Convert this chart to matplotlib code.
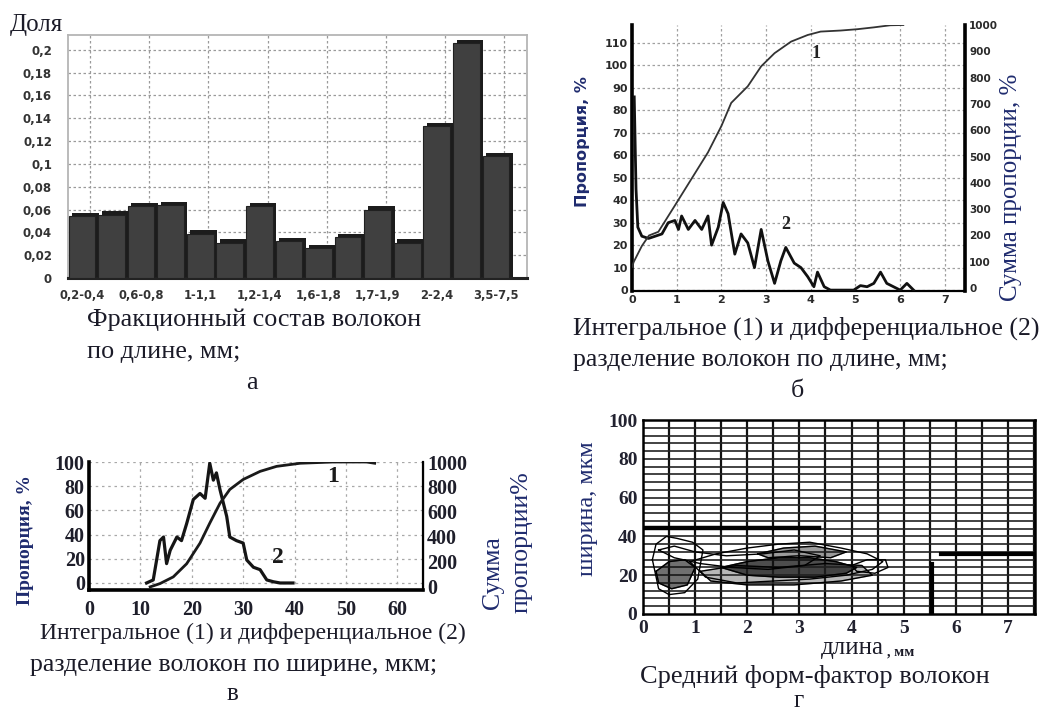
import numpy as np
import matplotlib
matplotlib.use('Agg')
import matplotlib.pyplot as plt

# ---- data -----------------------------------------------------------------
# (a) fraction of fibres by length class
frac_share = [0.054, 0.0555, 0.063, 0.064, 0.039, 0.031, 0.063, 0.032,
              0.026, 0.036, 0.060, 0.031, 0.133, 0.206, 0.107]
frac_labels = ['0,2-0,4', '0,6-0,8', '1-1,1', '1,2-1,4', '1,6-1,8',
               '1,7-1,9', '2-2,4', '3,5-7,5']
frac_ticks = ['0', '0,02', '0,04', '0,06', '0,08', '0,1', '0,12', '0,14',
              '0,16', '0,18', '0,2']

# (б) length distribution: integral (1) and differential (2)
int_len_x = [0.0, 0.04, 0.22, 0.38, 0.59, 0.96, 1.33, 1.70, 2.0, 2.22, 2.59,
             2.89, 3.19, 3.56, 3.93, 4.22, 4.67, 5.04, 5.41, 5.78, 6.07]
int_len_y = [80, 100, 160, 200, 214, 314, 415, 516, 616, 704, 767,
             843, 893, 937, 962, 975, 979, 984, 991, 999, 1000]
diff_len_x = [0.05, 0.09, 0.13, 0.22, 0.37, 0.52, 0.67, 0.81, 0.96, 1.04,
              1.11, 1.26, 1.41, 1.56, 1.70, 1.78, 1.93, 2.04, 2.15, 2.30,
              2.44, 2.59, 2.74, 2.89, 3.04, 3.19, 3.33, 3.44, 3.63, 3.78,
              3.93, 4.07, 4.15, 4.30, 4.44, 4.96, 5.11, 5.26, 5.41, 5.56,
              5.70, 5.85, 6.00, 6.15, 6.30]
diff_len_y = [86, 45, 28, 24, 23, 24, 25, 30, 31, 27,
              33, 27, 31, 27, 33, 20, 28, 39, 34, 16,
              25, 21, 10, 27, 13, 3, 13, 19, 12, 10,
              6, 1.5, 8, 1.5, 0, 0, 2, 1.5, 3, 8,
              3, 1.5, 0, 3, 0]

# (в) width distribution: integral (1) and differential (2)
int_wid_x = [11.9, 13.8, 16.4, 19.0, 21.6, 23.5, 25.5, 27.4, 30.0, 33.3,
             36.5, 41.1, 47.5, 54.0, 55.6]
int_wid_y = [0, 26, 80, 185, 350, 510, 670, 780, 860, 925,
             965, 990, 1000, 1000, 990]
diff_wid_x = [11.2, 12.5, 13.8, 14.5, 15.1, 15.8, 17.1, 18.0, 19.0, 20.3,
              21.6, 22.6, 23.5, 24.2, 24.8, 25.5, 26.8, 27.4, 28.7, 30.0,
              30.7, 32.0, 33.3, 34.6, 35.9, 37.2, 39.7]
diff_wid_y = [0, 2.5, 35, 38, 16, 27, 38, 35, 49, 69,
              74, 70, 99, 85, 91, 77, 55, 38, 35, 33,
              19, 13, 11, 2.5, 1, 0, 0]

# (г) shape factor cloud, traced outlines (length mm, width um)
loop_a_x = [0.18, 0.25, 0.45, 0.65, 0.95, 1.15, 1.05, 0.8, 0.5, 0.3, 0.18]
loop_a_y = [28, 36, 40, 39, 37, 33, 18, 11, 10, 13, 28]
loop_b_x = [0.9, 1.4, 2.0, 2.6, 3.2, 3.8, 4.3, 4.6, 4.4, 3.9, 3.2, 2.5, 1.8, 1.2, 0.9]
loop_b_y = [27, 31, 34, 36, 37, 34, 31, 27, 23, 20, 18, 17, 16, 19, 27]
loop_c_x = [1.5, 2.0, 2.6, 3.2, 3.7, 4.1, 3.9, 3.3, 2.6, 2.0, 1.5]
loop_c_y = [24, 27, 29, 29, 27, 24, 21, 19, 19, 20, 24]
loop_d_x = [2.2, 2.7, 3.3, 3.9, 3.6, 3.0, 2.4, 2.2]
loop_d_y = [31, 34, 35, 32, 29, 30, 29, 31]
loop_e_x = [0.25, 0.5, 0.8, 1.0, 0.85, 0.55, 0.3, 0.25]
loop_e_y = [22, 27, 28, 24, 15, 13, 16, 22]
loop_f_x = [4.0, 4.3, 4.65, 4.7, 4.45, 4.1, 4.0]
loop_f_y = [25, 28, 28, 24, 21, 22, 25]
loop_g_x = [0.3, 0.6, 1.0, 1.6, 2.3, 2.9, 3.4, 3.1, 2.4, 1.7, 1.1, 0.6, 0.3]
loop_g_y = [33, 35, 32, 30, 31, 33, 30, 25, 23, 24, 26, 29, 33]
loop_h_x = [1.1, 1.8, 2.6, 3.5, 4.2, 4.4, 3.8, 2.9, 2.0, 1.3, 1.1]
loop_h_y = [22, 25, 24, 26, 25, 20, 17, 15, 15, 17, 22]

# ---- layout helpers -------------------------------------------------------
W, H = 1043, 711
fig = plt.figure(figsize=(W / 100, H / 100), dpi=100)
SERIF = 'Liberation Serif'
NARROW = ['Liberation Sans Narrow', 'DejaVu Sans']
INK = '#1b1b28'
NAVY = '#1f2b6e'


def box(l, t, r, b):
    return [l / W, 1 - b / H, (r - l) / W, (b - t) / H]


def ftext(x, y, s, **kw):
    kw.setdefault('ha', 'center')
    kw.setdefault('va', 'center')
    fig.text(x / W, 1 - y / H, s, **kw)


# ---- (a) bars ---------------------------------------------------------------
ax_a = fig.add_axes(box(68, 35, 527, 278))
idx = np.arange(len(frac_share))
ax_a.bar(idx + 0.12, np.array(frac_share) + 0.003, width=0.9,
         color='#1c1c1c', zorder=2)
ax_a.bar(idx, frac_share, width=0.9, color='#404040', edgecolor='#202020',
         linewidth=0.8, zorder=3)
ax_a.set_xlim(-0.47, 15.05)
ax_a.set_ylim(0, 0.213)
ax_a.set_yticks(np.arange(11) * 0.02)
ax_a.set_yticklabels(frac_ticks, fontsize=8.5, fontweight='bold', color='#333333')
ax_a.set_xticks(idx[::2])
ax_a.set_xticklabels(frac_labels, fontsize=8.3, fontweight='bold', color='#333333')
ax_a.tick_params(axis='y', length=0, pad=11.5)
ax_a.tick_params(axis='x', length=0, pad=8)
ax_a.yaxis.grid(True, ls=(0, (2, 2)), color='#9a9a9a', lw=0.9, zorder=0)
for gx in np.arange(0.28, 15, 2):
    ax_a.axvline(gx, ls=(0, (2, 2)), color='#9a9a9a', lw=0.9, zorder=0)
for s in ['top', 'right', 'left']:
    ax_a.spines[s].set_color('#b5b5b5')
    ax_a.spines[s].set_linewidth(1.3)
ax_a.spines['bottom'].set_color('#222222')
ax_a.spines['bottom'].set_linewidth(2.2)
ftext(10, 25, 'Доля', fontsize=18, family=SERIF, color=INK, ha='left')

ftext(87, 320, 'Фракционный состав волокон', fontsize=18.8, family=SERIF, color=INK, ha='left')
ftext(87, 352, 'по длине, мм;', fontsize=18.8, family=SERIF, color=INK, ha='left')
ftext(252, 383, 'а', fontsize=18.8, family=SERIF, color=INK)

# ---- (б) length distribution ---------------------------------------------
ax_b = fig.add_axes(box(632, 25, 965, 291))
ax_b.plot(diff_len_x, diff_len_y, color='#111111', lw=2.0, zorder=3)
ax_b.set_xlim(0, 7.45)
ax_b.set_ylim(-0.4, 118)
ax_b.set_xticks(range(8))
ax_b.set_yticks(range(0, 111, 10))
ax_b.tick_params(length=0, pad=3, labelsize=8, labelcolor='#2a2a2a')
for lab in ax_b.get_xticklabels() + ax_b.get_yticklabels():
    lab.set_fontweight('bold')
ax_b.grid(True, ls=(0, (2, 2)), color='#a0a0a0', lw=0.9)
ax_b.spines['top'].set_visible(False)
ax_b.spines['left'].set_linewidth(2.6)
ax_b.spines['bottom'].set_linewidth(1.6)
ax_b.text(3.45, 29, '2', fontsize=13, fontweight='bold', family=SERIF,
          color='#222222', ha='center', va='center')

ax_b2 = ax_b.twinx()
ax_b2.plot(int_len_x, int_len_y, color='#333333', lw=1.3)
ax_b2.set_ylim(-11, 1000)
ax_b2.set_yticks(range(0, 1001, 100))
ax_b2.tick_params(length=0, pad=3, labelsize=7.5, labelcolor='#2a2a2a')
for lab in ax_b2.get_yticklabels():
    lab.set_fontweight('bold')
ax_b2.spines['top'].set_visible(False)
ax_b2.spines['left'].set_visible(False)
ax_b2.spines['bottom'].set_visible(False)
ax_b2.spines['right'].set_linewidth(2.6)
ax_b2.text(4.12, 893, '1', fontsize=13, fontweight='bold', family=SERIF,
           color='#222222', ha='center', va='center')
ftext(582, 142, 'Пропорция, %', fontsize=11.5, fontweight='bold', family=NARROW,
      color=NAVY, rotation=90)
ftext(1011, 187, 'Сумма пропорции, %', fontsize=18, family=SERIF, color=NAVY, rotation=90)

ftext(573, 328, 'Интегральное (1) и дифференциальное (2)', fontsize=18.6, family=SERIF,
      color=INK, ha='left')
ftext(573, 360, 'разделение волокон по длине, мм;', fontsize=18.6, family=SERIF,
      color=INK, ha='left')
ftext(797, 391, 'б', fontsize=18.6, family=SERIF, color=INK)

# ---- (в) width distribution ------------------------------------------------
ax_c = fig.add_axes(box(89, 462, 423, 590))
ax_c.plot(diff_wid_x, diff_wid_y, color='#151515', lw=2.3, zorder=3)
ax_c.set_xlim(0, 65)
ax_c.set_ylim(-5.8, 100)
ax_c.set_xticks(range(0, 61, 10))
ax_c.set_yticks(range(0, 101, 20))
ax_c.tick_params(length=0, pad=3, labelsize=14.5, labelcolor='#1e1e2a')
ax_c.tick_params(axis='x', pad=7)
for lab in ax_c.get_xticklabels() + ax_c.get_yticklabels():
    lab.set_fontweight('bold')
    lab.set_family(SERIF)
ax_c.grid(True, ls=(0, (2, 3)), color='#a8a8a8', lw=0.9)
ax_c.spines['top'].set_visible(False)
ax_c.spines['left'].set_linewidth(2.6)
ax_c.spines['bottom'].set_linewidth(2.6)
ax_c.text(36.8, 21, '2', fontsize=17, fontweight='bold', family=SERIF,
          color='#1a1a1a', ha='center', va='center')

ax_c2 = ax_c.twinx()
ax_c2.plot(int_wid_x, int_wid_y, color='#1a1a1a', lw=2.0)
ax_c2.set_ylim(-25, 1000)
ax_c2.set_yticks(range(0, 1001, 200))
ax_c2.tick_params(length=0, pad=3, labelsize=14.5, labelcolor='#1e1e2a')
for lab in ax_c2.get_yticklabels():
    lab.set_fontweight('bold')
    lab.set_family(SERIF)
for s in ['top', 'left', 'bottom']:
    ax_c2.spines[s].set_visible(False)
ax_c2.spines['right'].set_linewidth(1.6)
ax_c2.text(47.5, 887, '1', fontsize=17, fontweight='bold', family=SERIF,
           color='#1a1a1a', ha='center', va='center')
ftext(25, 540, 'Пропорция, %', fontsize=14, fontweight='bold', family=SERIF,
      color=NAVY, rotation=90)
ftext(493, 573, 'Сумма', fontsize=18.5, family=SERIF, color=NAVY, rotation=90)
ftext(522, 542, 'пропорции%', fontsize=18.5, family=SERIF, color=NAVY, rotation=90)

ftext(40, 633, 'Интегральное (1) и дифференциальное (2)', fontsize=17, family=SERIF,
      color=INK, ha='left')
ftext(30, 665, 'разделение волокон по ширине, мкм;', fontsize=18.5, family=SERIF,
      color=INK, ha='left')
ftext(232, 694, 'в', fontsize=18, family=SERIF, color=INK)

# ---- (г) shape factor --------------------------------------------------------
ax_d = fig.add_axes(box(643, 420, 1035, 614))
ax_d.set_xlim(0, 7.52)
ax_d.set_ylim(0, 99)
for gx in np.arange(0.5, 7.6, 0.5):
    ax_d.axvline(gx, color='#111111', lw=1.6, zorder=1)
for gy in np.arange(4, 99, 4):
    ax_d.axhline(gy, color='#222222', lw=1.2, zorder=1)
ax_d.axhline(44.5, xmax=0.45, color='#000000', lw=3.2, zorder=1)
ax_d.axhline(31, xmin=0.76, color='#000000', lw=3.0, zorder=1)
ax_d.axvline(5.55, ymax=0.26, color='#000000', lw=3.0, zorder=1)
for lx, ly in [(loop_a_x, loop_a_y), (loop_b_x, loop_b_y), (loop_c_x, loop_c_y),
               (loop_d_x, loop_d_y), (loop_e_x, loop_e_y), (loop_f_x, loop_f_y),
               (loop_g_x, loop_g_y), (loop_h_x, loop_h_y)]:
    ax_d.plot(lx, ly, color='#000000', lw=1.0, zorder=3)
ax_d.fill(loop_c_x, loop_c_y, color='#111111', alpha=0.75, zorder=2)
ax_d.fill(loop_e_x, loop_e_y, color='#111111', alpha=0.6, zorder=2)
ax_d.fill(loop_d_x, loop_d_y, color='#222222', alpha=0.45, zorder=2)
ax_d.fill(loop_h_x, loop_h_y, color='#333333', alpha=0.35, zorder=2)
ax_d.set_xticks(range(8))
ax_d.set_yticks(range(0, 101, 20))
ax_d.tick_params(length=0, pad=4, labelsize=14, labelcolor='#222230')
for lab in ax_d.get_xticklabels() + ax_d.get_yticklabels():
    lab.set_fontweight('bold')
    lab.set_family(SERIF)
for s in ax_d.spines.values():
    s.set_linewidth(1.8)
ftext(588, 509, 'ширина, мкм', fontsize=17.5, family=SERIF, color=NAVY, rotation=90)
ftext(884, 648, 'длина', fontsize=18, family=SERIF, color=INK, ha='right')
ftext(887, 652, ', мм', fontsize=10.5, fontweight='bold', family=SERIF, color=INK, ha='left')
ftext(815, 676, 'Средний форм-фактор волокон', fontsize=19, family=SERIF, color=INK)
ftext(799, 701, 'г', fontsize=18, family=SERIF, color=INK)

fig.savefig('out.png', dpi=100)
